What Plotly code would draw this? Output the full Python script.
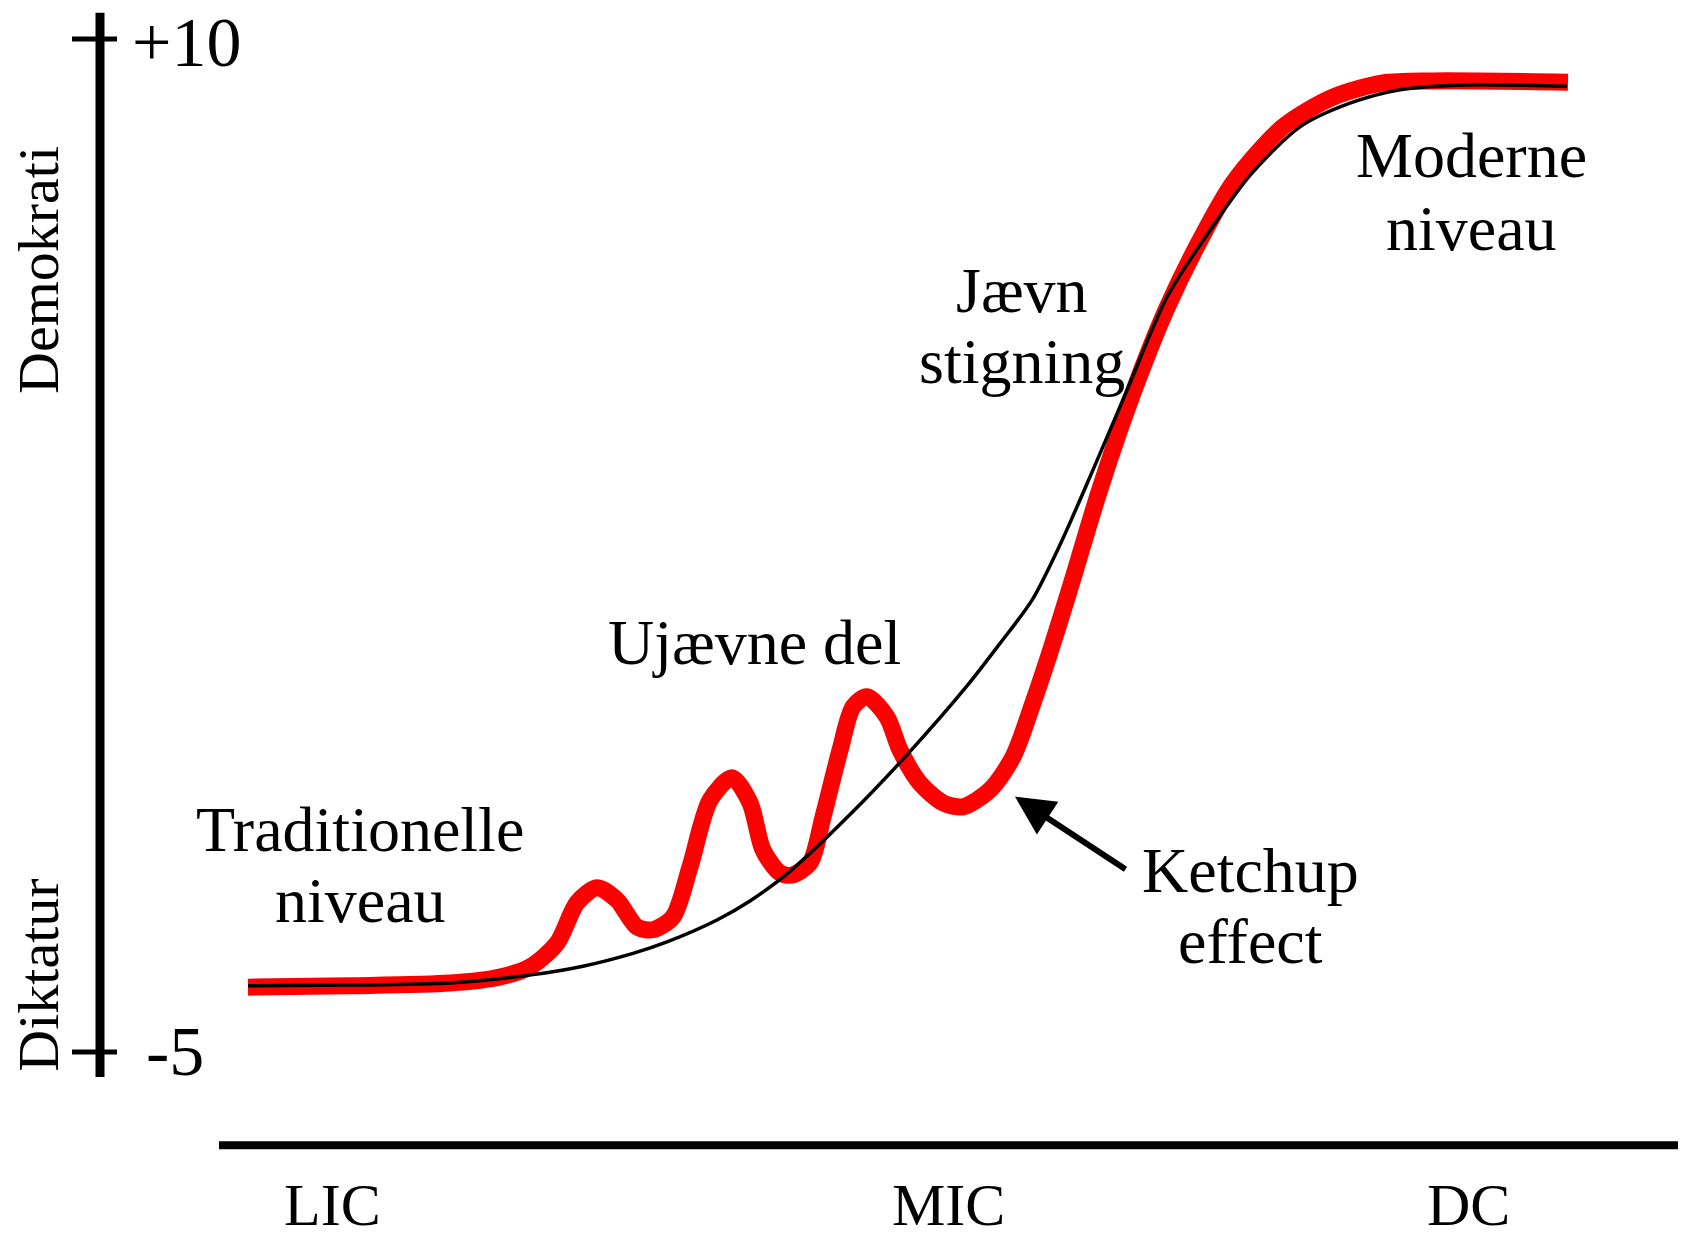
import plotly.graph_objects as go

# udviklingsniveau (x) og demokrati-score (y)
red_x = [12.4, 17.5, 22.5, 25.0, 26.5, 27.85, 28.85, 29.85, 30.85, 31.85, 32.65, 33.65,
         34.5, 35.5, 36.6, 37.5, 38.15, 39.0, 39.6, 40.5, 41.15, 42.0, 42.65, 43.35,
         44.35, 45.0, 46.0, 47.15, 48.15, 49.5, 50.65, 51.65, 52.5, 53.5, 55.0, 56.65,
         58.35, 60.0, 61.65, 64.15, 66.65, 69.15, 71.65, 78.4]
red_y = [-4.04, -4.02, -3.98, -3.89, -3.74, -3.39, -2.79, -2.57, -2.75, -3.15, -3.19, -3.00,
         -2.26, -1.27, -0.94, -1.31, -2.01, -2.35, -2.38, -2.20, -1.52, -0.53, 0.11, 0.26,
         -0.04, -0.53, -1.02, -1.31, -1.37, -1.12, -0.63, 0.17, 0.92, 1.87, 3.34, 4.76,
         6.02, 7.02, 7.87, 8.70, 9.14, 9.35, 9.38, 9.36]

black_x = [12.4, 17.5, 22.5, 26.65, 29.15, 31.65, 33.35, 35.85, 37.5, 39.5, 42.5, 45.35,
           48.35, 50.0, 51.6, 53.0, 54.65, 56.35, 58.35, 60.35, 62.5, 65.0, 67.5, 70.0,
           73.35, 78.35]
black_y = [-4.02, -4.01, -3.98, -3.855, -3.73, -3.54, -3.37, -3.045, -2.765, -2.325, -1.485, -0.60,
           0.42, 1.05, 1.69, 2.51, 3.62, 4.80, 6.18, 7.10, 7.98, 8.70, 9.05, 9.25,
           9.32, 9.30]

x_labels = ["LIC", "MIC", "DC"]
x_label_pos = [16.6, 47.4, 73.4]
y_ticks = [10, -5]
y_tick_text = ["+10", "-5"]

labels = [
    ("Traditionelle", 18.0, -1.71), ("niveau", 18.0, -2.75),
    ("Ujævne del", 37.7, 1.06),
    ("Jævn", 51.1, 6.27), ("stigning", 51.1, 5.23),
    ("Moderne", 73.55, 8.27), ("niveau", 73.55, 7.20),
    ("Ketchup", 62.5, -2.31), ("effect", 62.5, -3.36),
]

font = "Liberation Serif"

fig = go.Figure()
fig.add_trace(go.Scatter(x=red_x, y=red_y, mode="lines", line=dict(color="#ff0000", width=17, shape="spline", smoothing=0.8)))
fig.add_trace(go.Scatter(x=black_x, y=black_y, mode="lines", line=dict(color="black", width=3.5, shape="spline", smoothing=0.8)))

# akser
fig.add_shape(type="line", x0=5, x1=5, y0=-5.37, y1=10.39, line=dict(color="black", width=9))
for t in y_ticks:
    fig.add_shape(type="line", x0=3.6, x1=5.85, y0=t, y1=t, line=dict(color="black", width=5))
fig.add_shape(type="line", x0=10.95, x1=83.9, y0=-6.38, y1=-6.38, line=dict(color="black", width=8))

ann = []
for t, txt in zip(y_ticks, y_tick_text):
    ann.append(dict(x=9.3 if t > 0 else 8.75, y=t, yshift=-3 if t > 0 else 0, text=txt, showarrow=False,
                    font=dict(family=font, size=70, color="black")))
for txt, xp in zip(x_labels, x_label_pos):
    ann.append(dict(x=xp, y=-7.26, text=txt, showarrow=False, font=dict(family=font, size=60, color="black")))
for txt, xp, yp in labels:
    ann.append(dict(x=xp, y=yp, text=txt, showarrow=False, font=dict(family=font, size=64, color="black")))
ann.append(dict(x=1.95, y=6.58, text="Demokrati", textangle=-90, showarrow=False, font=dict(family=font, size=58, color="black")))
ann.append(dict(x=1.95, y=-3.87, text="Diktatur", textangle=-90, showarrow=False, font=dict(family=font, size=58, color="black")))
ann.append(dict(x=50.75, y=-1.22, ax=56.35, ay=-2.31, axref="x", ayref="y", xref="x", yref="y",
                text="", showarrow=True, arrowhead=2, arrowsize=1.3, arrowwidth=6, arrowcolor="black"))

fig.update_layout(
    width=1690, height=1238,
    margin=dict(l=0, r=0, t=0, b=0),
    paper_bgcolor="white", plot_bgcolor="white",
    showlegend=False,
    xaxis=dict(visible=False, range=[0, 84.5]),
    yaxis=dict(visible=False, range=[-7.755, 10.578]),
    annotations=ann,
)

fig.write_html("out.html", config={"displayModeBar": False}, post_script="document.body.style.margin='0';")
